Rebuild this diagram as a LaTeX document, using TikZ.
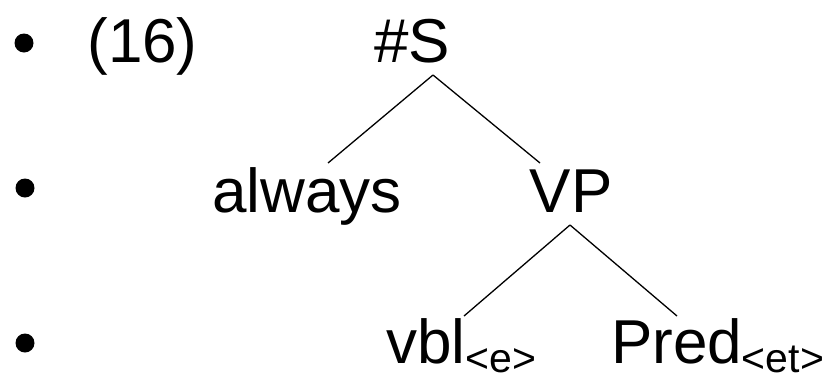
\documentclass[tikz,border=0pt]{standalone}
\usepackage{fontspec}
\setmainfont{Liberation Sans}
\begin{document}
\begin{tikzpicture}[x=1pt,y=-1pt,
  lbl/.style={inner sep=0pt,outer sep=0pt,anchor=base,font=\fontsize{62}{62}\selectfont},
  lblw/.style={lbl,anchor=base west},
  edge/.style={line width=1.3pt,black},
  bul/.style={fill=black,draw=none}]
\useasboundingbox (0,0) rectangle (832,381);
\newcommand{\subtxt}[1]{\raisebox{-9pt}{\fontsize{41}{41}\selectfont #1}}
% bullets
\fill[bul] (24,43) circle (9.5);
\fill[bul] (25,188) circle (9.5);
\fill[bul] (25,343) circle (9.5);
% nodes
\node[lbl] (n16) at (142.5,62) {(16)};
\node[lbl] (S) at (412,62) {\#S};
\node[lbl] (always) at (307,212) {always};
\node[lbl] (VP) at (571,212) {VP};
\node[lblw] (vbl) at (386,363) {vbl\subtxt{<e>}};
\node[lblw] (Pred) at (611,363) {Pred\subtxt{<et>}};
% connector end points
\coordinate (Sa) at (433,75);
\coordinate (alwaysT) at (328,163);
\coordinate (VPt) at (540,163);
\coordinate (VPa) at (570,225);
\coordinate (vblT) at (464,316);
\coordinate (PredT) at (677,316);
\draw[edge] (Sa) -- (alwaysT);
\draw[edge] (Sa) -- (VPt);
\draw[edge] (VPa) -- (vblT);
\draw[edge] (VPa) -- (PredT);
\end{tikzpicture}
\end{document}
